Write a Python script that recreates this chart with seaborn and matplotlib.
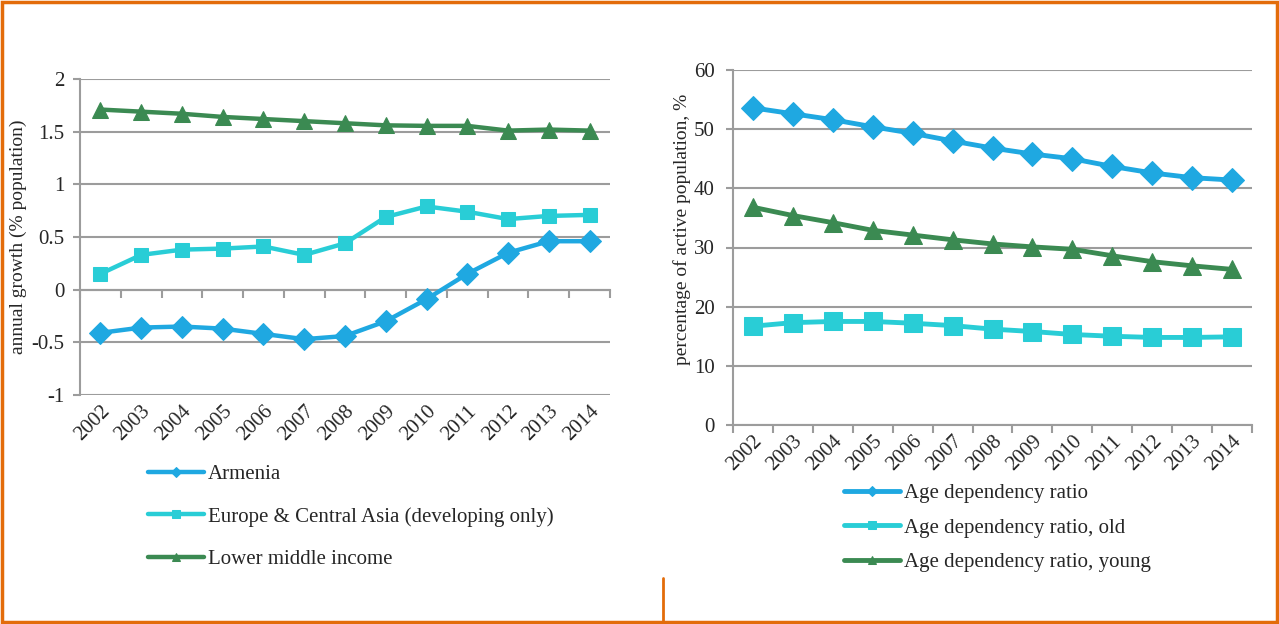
import matplotlib

matplotlib.use("Agg")
import matplotlib.pyplot as plt
import numpy as np
import pandas as pd
import seaborn as sns
from matplotlib.lines import Line2D
from matplotlib.patches import Rectangle

YEARS = ["2002", "2003", "2004", "2005", "2006", "2007", "2008",
         "2009", "2010", "2011", "2012", "2013", "2014"]

# left panel: annual population growth
ARMENIA = [-0.41, -0.36, -0.35, -0.37, -0.42, -0.47, -0.44,
           -0.30, -0.09, 0.15, 0.35, 0.46, 0.46]
EUROPE_CA = [0.15, 0.33, 0.38, 0.39, 0.41, 0.33, 0.44,
             0.69, 0.79, 0.74, 0.67, 0.70, 0.71]
LOWER_MID = [1.71, 1.69, 1.67, 1.64, 1.62, 1.60, 1.58,
             1.56, 1.555, 1.555, 1.51, 1.52, 1.51]

# right panel: age dependency ratios
DEP_TOTAL = [53.6, 52.6, 51.6, 50.4, 49.3, 48.0, 46.8,
             45.8, 45.0, 43.7, 42.6, 41.8, 41.4]
DEP_OLD = [16.7, 17.3, 17.5, 17.5, 17.2, 16.8, 16.2,
           15.8, 15.3, 15.0, 14.8, 14.8, 14.9]
DEP_YOUNG = [36.8, 35.4, 34.2, 32.9, 32.1, 31.3, 30.6,
             30.1, 29.7, 28.6, 27.6, 26.9, 26.3]

BLUE = "#1fa8e1"
CYAN = "#29cdd6"
GREEN = "#3b8a52"
GRID = "#9c9c9c"
ORANGE = "#e36c0a"

TICK_FS = 15
LEGEND_FS = 15
LABEL_FS = 14

sns.set_theme(style="white")
plt.rcParams["font.family"] = ["Liberation Serif", "DejaVu Serif"]

fig = plt.figure(figsize=(12.79, 6.24), dpi=100)
ax1 = fig.add_axes([80 / 1279, 1 - 395 / 624, 530 / 1279, 316 / 624])
ax2 = fig.add_axes([733 / 1279, 1 - 425 / 624, 519 / 1279, 355 / 624])

idx = np.arange(len(YEARS))
edges = np.arange(len(YEARS) + 1) - 0.5


def draw_series(ax, values, color, marker, ms, lw, label):
    df = pd.DataFrame({"pos": idx, "val": values})
    sns.lineplot(data=df, x="pos", y="val", ax=ax, color=color, marker=marker,
                 markersize=ms, markeredgecolor=color, linewidth=lw, label=label,
                 zorder=3)


def style_axes(ax, ylim, yticks, pad):
    ax.set_xlim(-0.5, len(YEARS) - 0.5)
    ax.set_ylim(*ylim)
    ax.set_yticks(yticks)
    ax.set_yticklabels([f"{t:g}" for t in yticks], fontsize=TICK_FS)
    ax.set_xticks(idx)
    ax.set_xticklabels(YEARS, rotation=45, ha="right", rotation_mode="anchor",
                       fontsize=TICK_FS)
    ax.grid(axis="y", color=GRID, linewidth=1.5)
    ax.set_axisbelow(True)
    for side in ["top", "right", "bottom"]:
        ax.spines[side].set_visible(False)
    ax.spines["left"].set_color(GRID)
    ax.spines["left"].set_linewidth(1.5)
    ax.tick_params(axis="y", left=True, length=5, color=GRID, width=1.5, pad=pad)
    ax.tick_params(axis="x", bottom=False, length=0, pad=5)
    ax.set_xlabel("")


# ---- left panel ----
draw_series(ax1, ARMENIA, BLUE, "D", 11, 3.2, "Armenia")
draw_series(ax1, EUROPE_CA, CYAN, "s", 10.5, 3.2, "Europe & Central Asia (developing only)")
draw_series(ax1, LOWER_MID, GREEN, "^", 11.5, 3.2, "Lower middle income")
style_axes(ax1, (-1, 2), [-1, -0.5, 0, 0.5, 1, 1.5, 2], pad=6)
ax1.set_ylabel("annual growth (% population)", fontsize=LABEL_FS)
ax1.yaxis.set_label_coords(-0.1, 0.5)

# category axis crossing at zero
zero_ax = ax1.secondary_xaxis(1 / 3)
zero_ax.set_xticks(edges)
zero_ax.set_xticklabels([])
zero_ax.spines["bottom"].set_color(GRID)
zero_ax.spines["bottom"].set_linewidth(1.5)
zero_ax.tick_params(axis="x", length=6, color=GRID, width=1.5, direction="out")

ax1.legend(loc="upper left", bbox_to_anchor=(138 / 1279, 1 - 454 / 624),
           bbox_transform=fig.transFigure, frameon=False, fontsize=LEGEND_FS,
           handlelength=2.65, handletextpad=0.2, labelspacing=1.1,
           markerscale=0.5, borderpad=0)

# ---- right panel ----
draw_series(ax2, DEP_TOTAL, BLUE, "D", 12, 3.5, "Age dependency ratio")
draw_series(ax2, DEP_OLD, CYAN, "s", 13, 3.5, "Age dependency ratio, old")
draw_series(ax2, DEP_YOUNG, GREEN, "^", 13, 3.5, "Age dependency ratio, young")
style_axes(ax2, (0, 60), [0, 10, 20, 30, 40, 50, 60], pad=8)
ax2.set_ylabel("percentage of active population, %", fontsize=LABEL_FS)
ax2.yaxis.set_label_coords(-0.08, 0.55)
ax2.spines["bottom"].set_visible(True)
ax2.spines["bottom"].set_color(GRID)
ax2.spines["bottom"].set_linewidth(1.5)
ax2.set_xticks(edges, minor=True)
ax2.tick_params(axis="x", which="minor", bottom=True, length=6, color=GRID, width=1.5)

ax2.legend(loc="upper left", bbox_to_anchor=(834 / 1279, 1 - 473 / 624),
           bbox_transform=fig.transFigure, frameon=False, fontsize=LEGEND_FS,
           handlelength=2.65, handletextpad=0.2, labelspacing=0.72,
           markerscale=0.42, borderpad=0)

# orange frame and divider stub
fig.add_artist(Rectangle((0.0015, 0.003), 0.997, 0.994, transform=fig.transFigure,
                         fill=False, edgecolor=ORANGE, linewidth=2.5))
fig.add_artist(Line2D([663 / 1279, 663 / 1279], [0, 1 - 578 / 624],
                      transform=fig.transFigure, color=ORANGE, linewidth=2))

fig.savefig("out.png", dpi=100)
